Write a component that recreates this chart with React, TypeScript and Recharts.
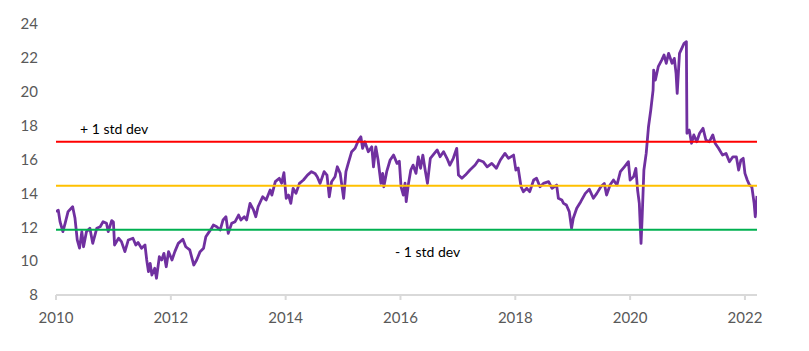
import { LineChart, Line, XAxis, YAxis, ReferenceLine } from 'recharts';

// fractional years
const dates = [
  2010.0, 2010.04, 2010.07, 2010.12, 2010.16, 2010.21, 2010.29, 2010.33, 2010.37, 2010.41,
  2010.45, 2010.48, 2010.53, 2010.59, 2010.64, 2010.71, 2010.77, 2010.82, 2010.88, 2010.91,
  2010.97, 2011.0, 2011.02, 2011.09, 2011.14, 2011.2, 2011.26, 2011.34, 2011.39, 2011.43,
  2011.49, 2011.55, 2011.58, 2011.61, 2011.64, 2011.67, 2011.72, 2011.75, 2011.8, 2011.84,
  2011.88, 2011.92, 2011.96, 2012.02, 2012.07, 2012.13, 2012.21, 2012.26, 2012.33, 2012.4,
  2012.45, 2012.51, 2012.57, 2012.61, 2012.67, 2012.71, 2012.74, 2012.8, 2012.86, 2012.91,
  2012.96, 2013.0, 2013.06, 2013.12, 2013.18, 2013.22, 2013.28, 2013.32, 2013.38, 2013.44,
  2013.48, 2013.52, 2013.6, 2013.66, 2013.73, 2013.76, 2013.82, 2013.89, 2013.93, 2013.97,
  2014.01, 2014.05, 2014.09, 2014.13, 2014.18, 2014.24, 2014.31, 2014.38, 2014.45, 2014.51,
  2014.55, 2014.6, 2014.67, 2014.72, 2014.76, 2014.8, 2014.86, 2014.9, 2014.95, 2015.01,
  2015.05, 2015.09, 2015.15, 2015.21, 2015.27, 2015.31, 2015.34, 2015.38, 2015.44, 2015.5,
  2015.53, 2015.57, 2015.61, 2015.66, 2015.69, 2015.71, 2015.76, 2015.82, 2015.88, 2015.94,
  2015.98, 2016.01, 2016.05, 2016.08, 2016.1, 2016.14, 2016.18, 2016.22, 2016.27, 2016.31,
  2016.35, 2016.39, 2016.43, 2016.47, 2016.52, 2016.59, 2016.64, 2016.69, 2016.75, 2016.81,
  2016.86, 2016.92, 2016.98, 2017.01, 2017.07, 2017.13, 2017.21, 2017.3, 2017.36, 2017.44,
  2017.51, 2017.59, 2017.67, 2017.74, 2017.82, 2017.88, 2017.97, 2018.01, 2018.05, 2018.1,
  2018.14, 2018.2, 2018.25, 2018.32, 2018.37, 2018.43, 2018.49, 2018.58, 2018.64, 2018.72,
  2018.75, 2018.81, 2018.84, 2018.89, 2018.94, 2018.98, 2019.01, 2019.07, 2019.14, 2019.22,
  2019.29, 2019.36, 2019.42, 2019.49, 2019.55, 2019.59, 2019.65, 2019.71, 2019.77, 2019.83,
  2019.9, 2019.97, 2020.0, 2020.06, 2020.1, 2020.13, 2020.16, 2020.19, 2020.21, 2020.24,
  2020.28, 2020.32, 2020.36, 2020.4, 2020.41, 2020.44, 2020.49, 2020.55, 2020.59, 2020.63,
  2020.67, 2020.73, 2020.77, 2020.8, 2020.82, 2020.86, 2020.9, 2020.94, 2020.98, 2020.99,
  2021.03, 2021.07, 2021.11, 2021.16, 2021.21, 2021.27, 2021.32, 2021.38, 2021.44, 2021.48,
  2021.54, 2021.61, 2021.67, 2021.73, 2021.79, 2021.85, 2021.89, 2021.93, 2021.97, 2022.0,
  2022.04, 2022.08, 2022.12, 2022.16, 2022.18, 2022.21,
];

const values = [
  12.92, 13.0, 12.33, 11.74, 12.25, 12.92, 13.21, 12.55, 11.25, 10.77,
  11.74, 10.85, 11.74, 11.94, 11.05, 11.94, 12.03, 12.33, 12.23, 11.74,
  12.39, 12.3, 10.95, 11.35, 11.15, 10.56, 11.25, 11.35, 10.95, 11.1,
  10.76, 10.95, 10.07, 9.38, 9.87, 9.18, 9.58, 8.99, 10.26, 10.07,
  10.46, 9.67, 10.56, 10.07, 10.56, 11.05, 11.29, 10.85, 10.66, 9.77,
  10.07, 10.56, 10.76, 11.44, 11.74, 11.94, 12.13, 12.03, 11.84, 12.43,
  12.62, 11.64, 12.23, 12.33, 12.72, 12.43, 12.62, 12.43, 13.41, 13.02,
  12.62, 13.21, 13.8, 13.61, 14.2, 13.9, 14.69, 14.89, 14.6, 15.22,
  13.71, 13.9, 13.41, 14.3, 14.0, 14.59, 14.79, 15.08, 15.28, 15.18,
  14.98, 14.59, 15.28, 15.08, 13.8, 14.69, 14.98, 15.57, 15.18, 13.71,
  15.28, 15.77, 16.46, 16.66, 17.15, 17.34, 16.66, 17.05, 16.46, 16.75,
  15.57, 16.75, 15.97, 14.59, 15.18, 14.39, 15.28, 15.97, 16.26, 15.77,
  15.9, 14.39, 13.9, 14.6, 13.51, 14.59, 15.38, 15.67, 15.18, 16.16,
  15.48, 16.26, 15.38, 14.59, 16.07, 16.36, 16.56, 16.16, 16.46, 16.07,
  15.67, 16.07, 16.66, 15.08, 14.89, 15.08, 15.38, 15.67, 15.97, 15.87,
  15.57, 15.77, 15.48, 15.97, 16.36, 16.07, 16.26, 15.38, 15.5, 14.39,
  14.1, 14.3, 14.1, 14.79, 14.89, 14.39, 14.59, 14.69, 14.3, 14.49,
  13.71, 13.61, 13.41, 13.31, 12.92, 11.94, 12.53, 13.12, 13.51, 14.0,
  14.24, 13.71, 14.0, 14.39, 14.59, 13.9, 14.49, 14.79, 14.49, 15.28,
  15.57, 15.87, 14.79, 14.98, 15.48, 14.2, 13.41, 11.05, 12.62, 15.38,
  16.36, 17.93, 18.92, 20.1, 21.28, 20.69, 21.48, 21.87, 22.17, 21.68,
  22.27, 21.68, 21.97, 21.09, 19.9, 22.27, 22.56, 22.86, 22.95, 17.55,
  17.74, 16.96, 17.45, 17.05, 17.55, 17.84, 17.15, 17.05, 17.45, 16.96,
  16.66, 16.26, 16.36, 15.87, 16.16, 16.16, 15.38, 15.97, 16.07, 15.18,
  14.79, 14.49, 14.39, 13.41, 12.62, 13.85,
];

const yearTicks = [2010, 2012, 2014, 2016, 2018, 2020, 2022];
const yTicks = [8, 10, 12, 14, 16, 18, 20, 22, 24];

const upperBand = 17.05;
const meanLevel = 14.45;
const lowerBand = 11.85;
const upperLabel = '+ 1 std dev';
const lowerLabel = '- 1 std dev';

const data = dates.map((t, i) => ({ t, v: values[i] }));

const tickStyle = { fill: '#595959', fontSize: 15, fontFamily: 'Lato' };

const App = () => {
  return (
    <div style={{ width: 809, height: 351 }}>
      <style>{'body{margin:0}'}</style>
      <LineChart
        width={809}
        height={351}
        data={data}
        margin={{ top: 24, right: 52, bottom: 0, left: 0 }}
      >
        <XAxis
          dataKey="t"
          type="number"
          domain={[2010, 2022.21]}
          ticks={yearTicks}
          allowDataOverflow
          height={56}
          tick={tickStyle}
          tickSize={5}
          tickMargin={12}
          stroke="#D9D9D9"
          strokeWidth={2}
          tickFormatter={(v) => String(Math.round(v))}
        />
        <YAxis
          domain={[8, 24]}
          ticks={yTicks}
          width={56}
          axisLine={false}
          tickLine={false}
          tickMargin={12}
          tick={tickStyle}
        />
        <Line
          dataKey="v"
          type="linear"
          stroke="#7030A0"
          strokeWidth={2.8}
          strokeLinejoin="round"
          dot={false}
          isAnimationActive={false}
        />
        <ReferenceLine
          y={upperBand}
          stroke="#FF0000"
          strokeWidth={2}
          label={(props: any) => (
            <text x={props.viewBox.x + 24} y={props.viewBox.y - 8} fill="#000" fontSize={14} fontFamily="Lato">
              {upperLabel}
            </text>
          )}
        />
        <ReferenceLine y={meanLevel} stroke="#FFC000" strokeWidth={2} />
        <ReferenceLine
          y={lowerBand}
          stroke="#00B050"
          strokeWidth={2}
          label={(props: any) => (
            <text x={props.viewBox.x + 339} y={props.viewBox.y + 27} fill="#000" fontSize={14} fontFamily="Lato">
              {lowerLabel}
            </text>
          )}
        />
      </LineChart>
    </div>
  );
};

export default App;
